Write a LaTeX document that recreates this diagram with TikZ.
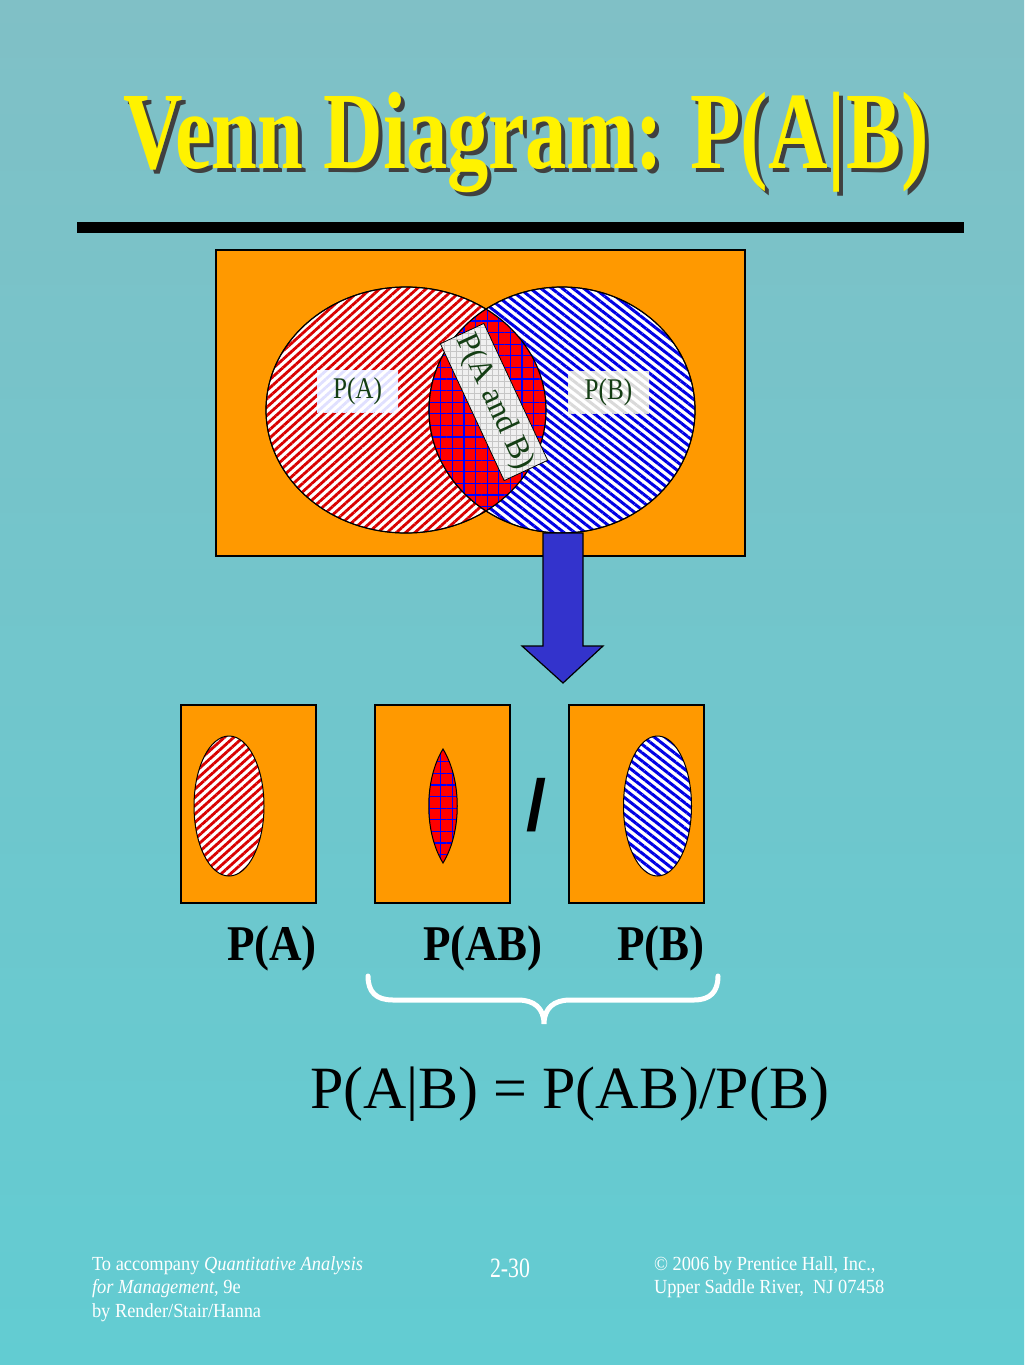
\documentclass[tikz,border=0pt]{standalone}
\usepackage{fontspec}
\setmainfont{Liberation Serif}
\newfontfamily\slashfont{Liberation Sans}
\usepackage{graphicx}
\usetikzlibrary{patterns.meta}
\definecolor{slideorange}{RGB}{255,153,0}
\definecolor{arrowblue}{RGB}{51,51,204}
\definecolor{labelgreen}{RGB}{20,62,20}
\definecolor{bgtop}{RGB}{128,192,198}
\definecolor{bgmid}{RGB}{132,216,222}
\definecolor{bgbottom}{RGB}{98,204,210}
\newcommand{\narrow}[2]{\scalebox{#1}[1]{#2}}

\begin{document}
\begin{tikzpicture}[x=0.5pt, y=-0.5pt,
    plain/.style={inner sep=0pt, outer sep=0pt},
    orangebox/.style={draw=black, fill=slideorange, line width=0.6pt},
    redlines/.style={preaction={fill=white}, pattern={Lines[angle=42,distance=3.1pt,line width=1.4pt]}, pattern color=red!85!black},
    bluelines/.style={preaction={fill=white}, pattern={Lines[angle=-38,distance=3.3pt,line width=1.5pt]}, pattern color=blue!90!black},
    redgrid/.style={preaction={fill=red}, pattern={Hatch[angle=0,distance=5.8pt,line width=0.6pt]}, pattern color=blue},
    vennlabel/.style={plain, text=labelgreen, font=\fontsize{15}{18}\selectfont, minimum width=40.5pt, minimum height=21pt},
    biglabel/.style={plain, anchor=base west, font=\fontsize{25}{30}\selectfont\bfseries},
    footer/.style={plain, anchor=base west, text=white, font=\fontsize{10}{12}\selectfont}]
  \useasboundingbox (0,0) rectangle (1024,1365);
  \shade[top color=bgtop, middle color=bgmid, bottom color=bgbottom] (0,0) rectangle (1024,1365);

  \node[plain, anchor=base west, text=black!75, font=\fontsize{55}{60}\selectfont\bfseries] (titleshadow) at (127,172) {\narrow{0.75}{Venn Diagram: P(A|B)}};
  \node[plain, anchor=base west, text=yellow, font=\fontsize{55}{60}\selectfont\bfseries] (title) at (123,168) {\narrow{0.75}{Venn Diagram: P(A|B)}};
  \fill[black] (77,222) rectangle (964,233);

  \draw[orangebox] (216,250) rectangle (745,556);
  \draw[redlines] (406,410) ellipse [x radius=70pt, y radius=61.5pt];
  \draw[bluelines] (562,410) ellipse [x radius=66.5pt, y radius=61.5pt];
  \begin{scope}
    \clip (406,410) ellipse [x radius=70pt, y radius=61.5pt];
    \fill[redgrid] (562,410) ellipse [x radius=66.5pt, y radius=61.5pt];
  \end{scope}
  \draw[line width=0.6pt] (406,410) ellipse [x radius=70pt, y radius=61.5pt];
  \draw[line width=0.6pt] (562,410) ellipse [x radius=66.5pt, y radius=61.5pt];
  \node[vennlabel, preaction={fill=white}, pattern={Lines[angle=42,distance=3.1pt,line width=1.4pt]}, pattern color=blue!12] (labelA) at (357.5,391) {\narrow{0.84}{P(A)}};
  \node[vennlabel, preaction={fill=white}, pattern={Lines[angle=-38,distance=3.3pt,line width=1.5pt]}, pattern color=gray!30] (labelB) at (608.5,392) {\narrow{0.84}{P(B)}};
  \node[vennlabel, draw=black, line width=0.4pt, rotate=-65, minimum width=75.5pt, minimum height=24pt, font=\fontsize{16}{18}\selectfont, preaction={fill=gray!12}, pattern={Hatch[angle=0,distance=3pt,line width=0.3pt]}, pattern color=gray!45] (labelAB) at (494,402) {P(A and B)};

  \draw[fill=arrowblue, line width=0.6pt] (543,533) -- (583,533) -- (583,646) -- (603,646) -- (563,683) -- (522,646) -- (543,646) -- cycle;

  \draw[orangebox] (181,705) rectangle (316,903);
  \draw[redlines, line width=0.5pt] (229,806) ellipse [x radius=17.5pt, y radius=35pt];
  \draw[orangebox] (375,705) rectangle (510,903);
  \draw[redgrid, line width=0.5pt] (443,749) .. controls (424,780) and (424,832) .. (443,863) .. controls (462,832) and (462,780) .. (443,749) -- cycle;
  \draw[orangebox] (569,705) rectangle (704,903);
  \draw[bluelines, line width=0.5pt] (657.5,806) ellipse [x radius=17pt, y radius=35pt];
  \node[plain, font=\slashfont\bfseries\fontsize{36}{40}\selectfont] (slash) at (536,805) {/};

  \node[biglabel] (bottomA) at (227,960) {\narrow{0.9}{P(A)}};
  \node[biglabel] (bottomAB) at (423,960) {\narrow{0.9}{P(AB)}};
  \node[biglabel] (bottomB) at (617,960) {\narrow{0.9}{P(B)}};

  \draw[white, line width=2.5pt, line cap=round] (368,976) .. controls (368,992) and (376,1000) .. (393,1000) -- (518,1000) .. controls (534,1000) and (544,1008) .. (544,1024) .. controls (544,1008) and (554,1000) .. (570,1000) -- (694,1000) .. controls (710,1000) and (718,992) .. (718,976);

  \node[plain, anchor=base west, font=\fontsize{30}{34}\selectfont] (formula) at (310,1108) {P(A|B) = P(AB)/P(B)};

  \node[footer] (foot1) at (92,1270) {\narrow{0.92}{To accompany \textit{Quantitative Analysis}}};
  \node[footer] (foot2) at (92,1293) {\narrow{0.92}{\textit{for Management}, 9e}};
  \node[footer] (foot3) at (92,1317) {\narrow{0.92}{by Render/Stair/Hanna}};
  \node[footer, font=\fontsize{14}{16}\selectfont] (pageno) at (490,1277) {\narrow{0.78}{2-30}};
  \node[footer] (foot4) at (654,1270) {\narrow{0.92}{© 2006 by Prentice Hall, Inc.,}};
  \node[footer] (foot5) at (654,1293) {\narrow{0.92}{Upper Saddle River,\ \ NJ 07458}};
\end{tikzpicture}
\end{document}
